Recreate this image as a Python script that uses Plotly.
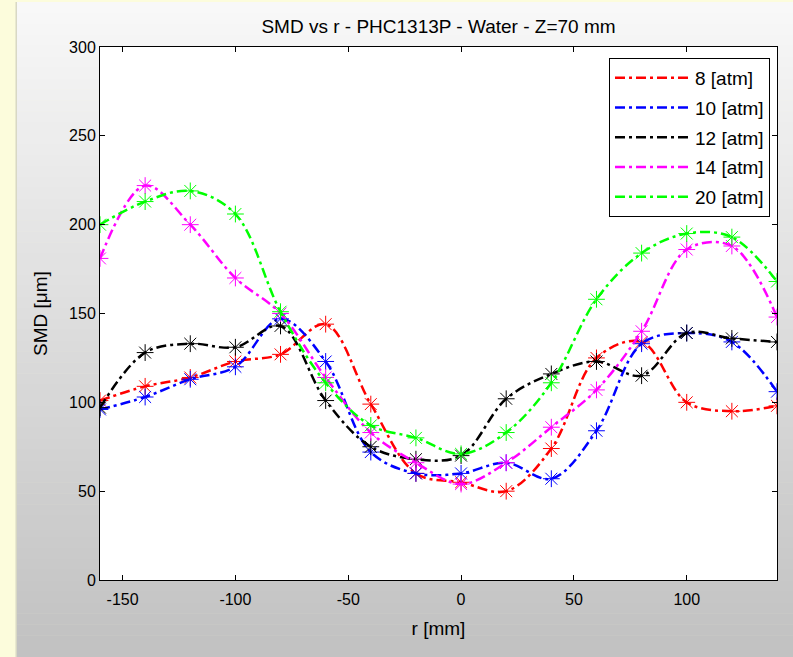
import plotly.graph_objects as go

# radial positions (mm)
r_mm = [-160, -140, -120, -100, -80, -60, -40, -20, 0, 20, 40, 60, 80, 100, 120, 140]

# SMD values (um) per pressure
smd_8 = [101, 109, 114, 123, 127, 144, 99, 60, 55, 50, 74, 125, 134, 100, 95, 98]
smd_10 = [96, 103, 113, 120, 147, 123, 72, 60, 60, 66, 57, 84, 133, 139, 134, 106]
smd_12 = [97, 128, 133, 131, 143, 101, 75, 68, 70, 102, 116, 123, 115, 139, 136, 134]
smd_14 = [181, 222, 200, 170, 150, 114, 83, 66, 54, 66, 86, 107, 140, 186, 188, 148]
smd_20 = [200, 213, 219, 206, 151, 111, 87, 80, 71, 83, 111, 158, 184, 195, 193, 168]

series_names = ["8 [atm]", "10 [atm]", "12 [atm]", "14 [atm]", "20 [atm]"]
series_values = [smd_8, smd_10, smd_12, smd_14, smd_20]
series_colours = ["#ff0000", "#0000ff", "#000000", "#ff00ff", "#00ff00"]

x_ticks = [-150, -100, -50, 0, 50, 100]
y_ticks = [0, 50, 100, 150, 200, 250, 300]

W, H = 793, 657
ml, mr, mt, mb = 100, 16, 47, 77
pw, ph = W - ml - mr, H - mt - mb

fig = go.Figure()

for name, vals, col in zip(series_names, series_values, series_colours):
    fig.add_trace(go.Scatter(
        x=r_mm, y=vals, name=name, mode="lines",
        line=dict(color=col, width=2.5, dash="10px,4px,3px,4px", shape="spline", smoothing=1.0),
        legendgroup=name,
    ))
    fig.add_trace(go.Scatter(
        x=r_mm, y=vals, mode="markers", showlegend=False, legendgroup=name,
        marker=dict(symbol="asterisk-open", size=14, color=col, line=dict(color=col, width=1)),
        hoverinfo="skip",
    ))


def px_to_paper(x, y):
    return (x - ml) / pw, (H - mb - y) / ph


# grey gradient panel behind the axes
shapes = []
n_strips = 60
top_px, bot_px = 2, H
for i in range(n_strips):
    y0 = top_px + (bot_px - top_px) * i / n_strips
    y1 = top_px + (bot_px - top_px) * (i + 1) / n_strips + 0.5
    t = i / (n_strips - 1)
    c = int(248 - (248 - 194) * t)
    xa, ya = px_to_paper(17, y0)
    xb, yb = px_to_paper(W + 5, y1)
    shapes.append(dict(type="rect", xref="paper", yref="paper", x0=xa, x1=xb, y0=yb, y1=ya,
                       fillcolor=f"rgb({c},{c},{c})", line=dict(width=0), layer="below"))
# soft shadow at the left of the panel
for k, c in enumerate(["#e9e9d0", "#d8d8c4"]):
    xa, ya = px_to_paper(15 + k, 2)
    xb, yb = px_to_paper(16 + k, H + 5)
    shapes.append(dict(type="rect", xref="paper", yref="paper", x0=xa, x1=xb, y0=yb, y1=ya,
                       fillcolor=c, line=dict(width=0), layer="below"))
# white axes area
shapes.append(dict(type="rect", xref="paper", yref="paper", x0=0, x1=1, y0=0, y1=1,
                   fillcolor="white", line=dict(width=0), layer="below"))

font_family = "Liberation Sans, Arial, sans-serif"
tick_font = dict(family=font_family, size=16, color="black")

fig.update_layout(
    width=W, height=H,
    margin=dict(l=ml, r=mr, t=mt, b=mb),
    paper_bgcolor="#fcfcdc",
    plot_bgcolor="white",
    shapes=shapes,
    font=dict(family=font_family, size=18, color="black"),
    title=dict(text="SMD vs r - PHC1313P - Water - Z=70 mm", x=(ml + pw / 2) / W, xanchor="center",
               y=1 - 26 / H, yanchor="middle", font=dict(size=19)),
    xaxis=dict(
        range=[-160, 140], tickvals=x_ticks, ticktext=[str(v) for v in x_ticks],
        ticks="inside", ticklen=5, tickcolor="black", showline=True, linecolor="black",
        linewidth=1, mirror="ticks", showgrid=False, zeroline=False, ticklabelstandoff=5,
        title=dict(text="r [mm]", standoff=14, font=dict(size=19)), tickfont=tick_font,
    ),
    yaxis=dict(
        range=[0, 300], tickvals=y_ticks, ticktext=[str(v) for v in y_ticks],
        ticks="inside", ticklen=5, tickcolor="black", showline=True, linecolor="black",
        linewidth=1, mirror="ticks", showgrid=False, zeroline=False,
        title=dict(text="SMD [μm]", standoff=16, font=dict(size=19)), tickfont=tick_font,
    ),
    legend=dict(
        x=(770 - ml) / pw, xanchor="right", y=(H - mb - 58) / ph, yanchor="top",
        bgcolor="white", bordercolor="black", borderwidth=1,
        font=dict(size=19), tracegroupgap=2, itemwidth=75,
    ),
    showlegend=True,
)

fig.write_html("out.html", config={"displayModeBar": False},
               post_script="document.body.style.margin='0px';")
